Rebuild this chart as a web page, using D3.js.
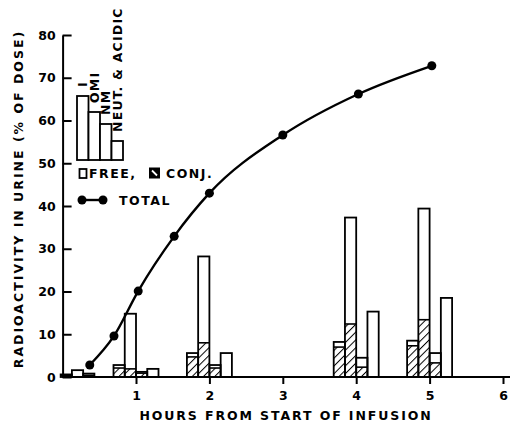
<!DOCTYPE html>
<html>
<head>
<meta charset="utf-8">
<script src="https://cdn.jsdelivr.net/npm/d3@7"></script>
<style>
  body { margin: 0; background: #fff; }
  svg { display: block; font-family: "DejaVu Sans", sans-serif; font-weight: bold; }
</style>
</head>
<body>
<svg id="chart" width="511" height="429"></svg>
<script>
// hours at which the urine fractions were sampled
const barHours = [0.28, 1, 2, 4, 5];
const fractions = ["I", "OMI", "NM", "NEUT. & ACIDIC"];

// % of dose, free (open) and conjugated (hatched) per fraction
const freeI   = [0.2, 0.7, 0.9, 1.2, 1.2];
const conjI   = [0.4, 2.1, 4.7, 7.0, 7.3];
const freeOMI = [1.6, 12.9, 20.2, 24.9, 26.0];
const conjOMI = [0, 1.9, 8.0, 12.4, 13.4];
const freeNM  = [0.4, 0.3, 0.7, 2.2, 2.3];
const conjNM  = [0.4, 0.9, 2.1, 2.3, 3.3];
const freeNA  = [0, 1.9, 5.6, 15.3, 18.5];
const conjNA  = [0, 0, 0, 0, 0];

// cumulative total radioactivity
const totalHours  = [0.37, 0.7, 1.03, 1.52, 2.0, 3.0, 4.03, 5.03];
const totalValues = [2.8, 9.6, 20.1, 32.9, 43.0, 56.6, 66.2, 72.8];

const xTicks = [1, 2, 3, 4, 5, 6];
const yTicks = [0, 10, 20, 30, 40, 50, 60, 70, 80];

const svg = d3.select("#chart");

const x = d3.scaleLinear().domain([0, 6]).range([62.6, 503]);
const y = d3.scaleLinear().domain([0, 80]).range([377, 35]);
const inner = d3.scaleBand().domain(fractions).range([-22.5, 22.5]);

const freeSeries = [freeI, freeOMI, freeNM, freeNA];
const conjSeries = [conjI, conjOMI, conjNM, conjNA];

// hatch pattern for conjugated part
const defs = svg.append("defs");
defs.append("pattern")
    .attr("id", "hatch")
    .attr("patternUnits", "userSpaceOnUse")
    .attr("width", 5.5)
    .attr("height", 5.5)
    .attr("patternTransform", "rotate(45)")
  .append("line")
    .attr("x1", 0).attr("y1", 0)
    .attr("x2", 0).attr("y2", 5.5)
    .attr("stroke", "#000")
    .attr("stroke-width", 2);

// flatten to one record per bar
const bars = [];
barHours.forEach((h, i) => {
  fractions.forEach((f, j) => {
    bars.push({hour: h, fraction: f, conj: conjSeries[j][i], free: freeSeries[j][i]});
  });
});

const barG = svg.append("g").attr("class", "bars");

const barGroup = barG.selectAll("g.bar")
  .data(bars)
  .enter().append("g")
  .attr("class", "bar")
  .attr("transform", d => "translate(" + (x(d.hour) + inner(d.fraction)) + ",0)");

barGroup.filter(d => d.conj > 0).append("rect")
  .attr("x", 0)
  .attr("width", inner.bandwidth())
  .attr("y", d => y(d.conj))
  .attr("height", d => y(0) - y(d.conj))
  .attr("fill", "url(#hatch)");

barGroup.filter(d => d.conj + d.free > 0).append("rect")
  .attr("x", 0)
  .attr("width", inner.bandwidth())
  .attr("y", d => y(d.conj + d.free))
  .attr("height", d => y(0) - y(d.conj + d.free))
  .attr("fill", "none")
  .attr("stroke", "#000")
  .attr("stroke-width", 1.8);

// line between free and conjugated parts
barGroup.filter(d => d.conj > 0 && d.free > 0).append("line")
  .attr("x1", 0)
  .attr("x2", inner.bandwidth())
  .attr("y1", d => y(d.conj))
  .attr("y2", d => y(d.conj))
  .attr("stroke", "#000")
  .attr("stroke-width", 1.6);

// total curve
const totals = totalHours.map((h, i) => ({hour: h, value: totalValues[i]}));

svg.append("path")
  .datum(totals)
  .attr("fill", "none")
  .attr("stroke", "#000")
  .attr("stroke-width", 2.4)
  .attr("d", d3.line()
    .x(d => x(d.hour))
    .y(d => y(d.value))
    .curve(d3.curveMonotoneX));

svg.selectAll("circle.total")
  .data(totals)
  .enter().append("circle")
  .attr("class", "total")
  .attr("cx", d => x(d.hour))
  .attr("cy", d => y(d.value))
  .attr("r", 4.5)
  .attr("fill", "#000");

// axes
const xAxis = svg.append("g")
  .attr("transform", "translate(0," + y(0) + ")")
  .call(d3.axisBottom(x).tickValues(xTicks).tickFormat(d3.format("d"))
    .tickSize(7).tickPadding(7).tickSizeOuter(0));
xAxis.select(".domain").attr("d", "M" + x(0) + ",0H510");

const yAxis = svg.append("g")
  .attr("transform", "translate(" + x(0) + ",0)")
  .call(d3.axisLeft(y).tickValues(yTicks).tickSizeOuter(0));
yAxis.selectAll(".tick line").attr("x2", 9);
yAxis.selectAll(".tick text").attr("x", -7);

svg.selectAll(".domain, .tick line").attr("stroke", "#000").attr("stroke-width", 2);
svg.selectAll(".tick text")
  .attr("fill", "#000")
  .style("font-family", "'DejaVu Sans', sans-serif")
  .style("font-weight", "bold")
  .style("font-size", "12.5px");

// axis titles
svg.append("text")
  .attr("x", 286)
  .attr("y", 420)
  .attr("text-anchor", "middle")
  .style("font-size", "12.5px")
  .style("letter-spacing", "1.9px")
  .text("HOURS FROM START OF INFUSION");

svg.append("text")
  .attr("transform", "translate(23,199) rotate(-90)")
  .attr("text-anchor", "middle")
  .style("font-size", "12.5px")
  .style("letter-spacing", "2px")
  .text("RADIOACTIVITY IN URINE (% OF DOSE)");

// legend
function buildLegend() {
  const lg = svg.append("g").attr("class", "legend").attr("transform", "translate(77,160)");
  const sampleH = [64, 48, 36, 19];
  const bw = 11.5;

  fractions.forEach((f, i) => {
    lg.append("rect")
      .attr("x", i * bw)
      .attr("y", -sampleH[i])
      .attr("width", bw)
      .attr("height", sampleH[i])
      .attr("fill", "#fff")
      .attr("stroke", "#000")
      .attr("stroke-width", 1.8);

    lg.append("text")
      .attr("transform", "translate(" + (i * bw + bw / 2 + 4.5) + "," + (-sampleH[i] - 9) + ") rotate(-90)")
      .style("font-size", "12.5px")
      .style("letter-spacing", "1.2px")
      .text(f);
  });

  // free / conj keys
  lg.append("rect")
    .attr("x", 2.5).attr("y", 9)
    .attr("width", 7).attr("height", 9)
    .attr("fill", "#fff").attr("stroke", "#000").attr("stroke-width", 1.8);
  lg.append("text")
    .attr("x", 12).attr("y", 18)
    .style("font-size", "12.5px")
    .style("letter-spacing", "1.5px")
    .text("FREE,");

  lg.append("rect")
    .attr("x", 72).attr("y", 7.5)
    .attr("width", 11).attr("height", 11)
    .attr("fill", "#000");
  lg.append("line")
    .attr("x1", 75).attr("y1", 10.5)
    .attr("x2", 80).attr("y2", 15.5)
    .attr("stroke", "#fff").attr("stroke-width", 1.8);
  lg.append("text")
    .attr("x", 89).attr("y", 18)
    .style("font-size", "12.5px")
    .style("letter-spacing", "1.5px")
    .text("CONJ.");

  // total key
  lg.append("line")
    .attr("x1", 5).attr("y1", 40)
    .attr("x2", 26).attr("y2", 40)
    .attr("stroke", "#000").attr("stroke-width", 2.4);
  [5, 26].forEach(cx => {
    lg.append("circle").attr("cx", cx).attr("cy", 40).attr("r", 4.5).attr("fill", "#000");
  });
  lg.append("text")
    .attr("x", 42).attr("y", 45)
    .style("font-size", "12.5px")
    .style("letter-spacing", "1.5px")
    .text("TOTAL");

  return lg;
}

buildLegend();
</script>
</body>
</html>
